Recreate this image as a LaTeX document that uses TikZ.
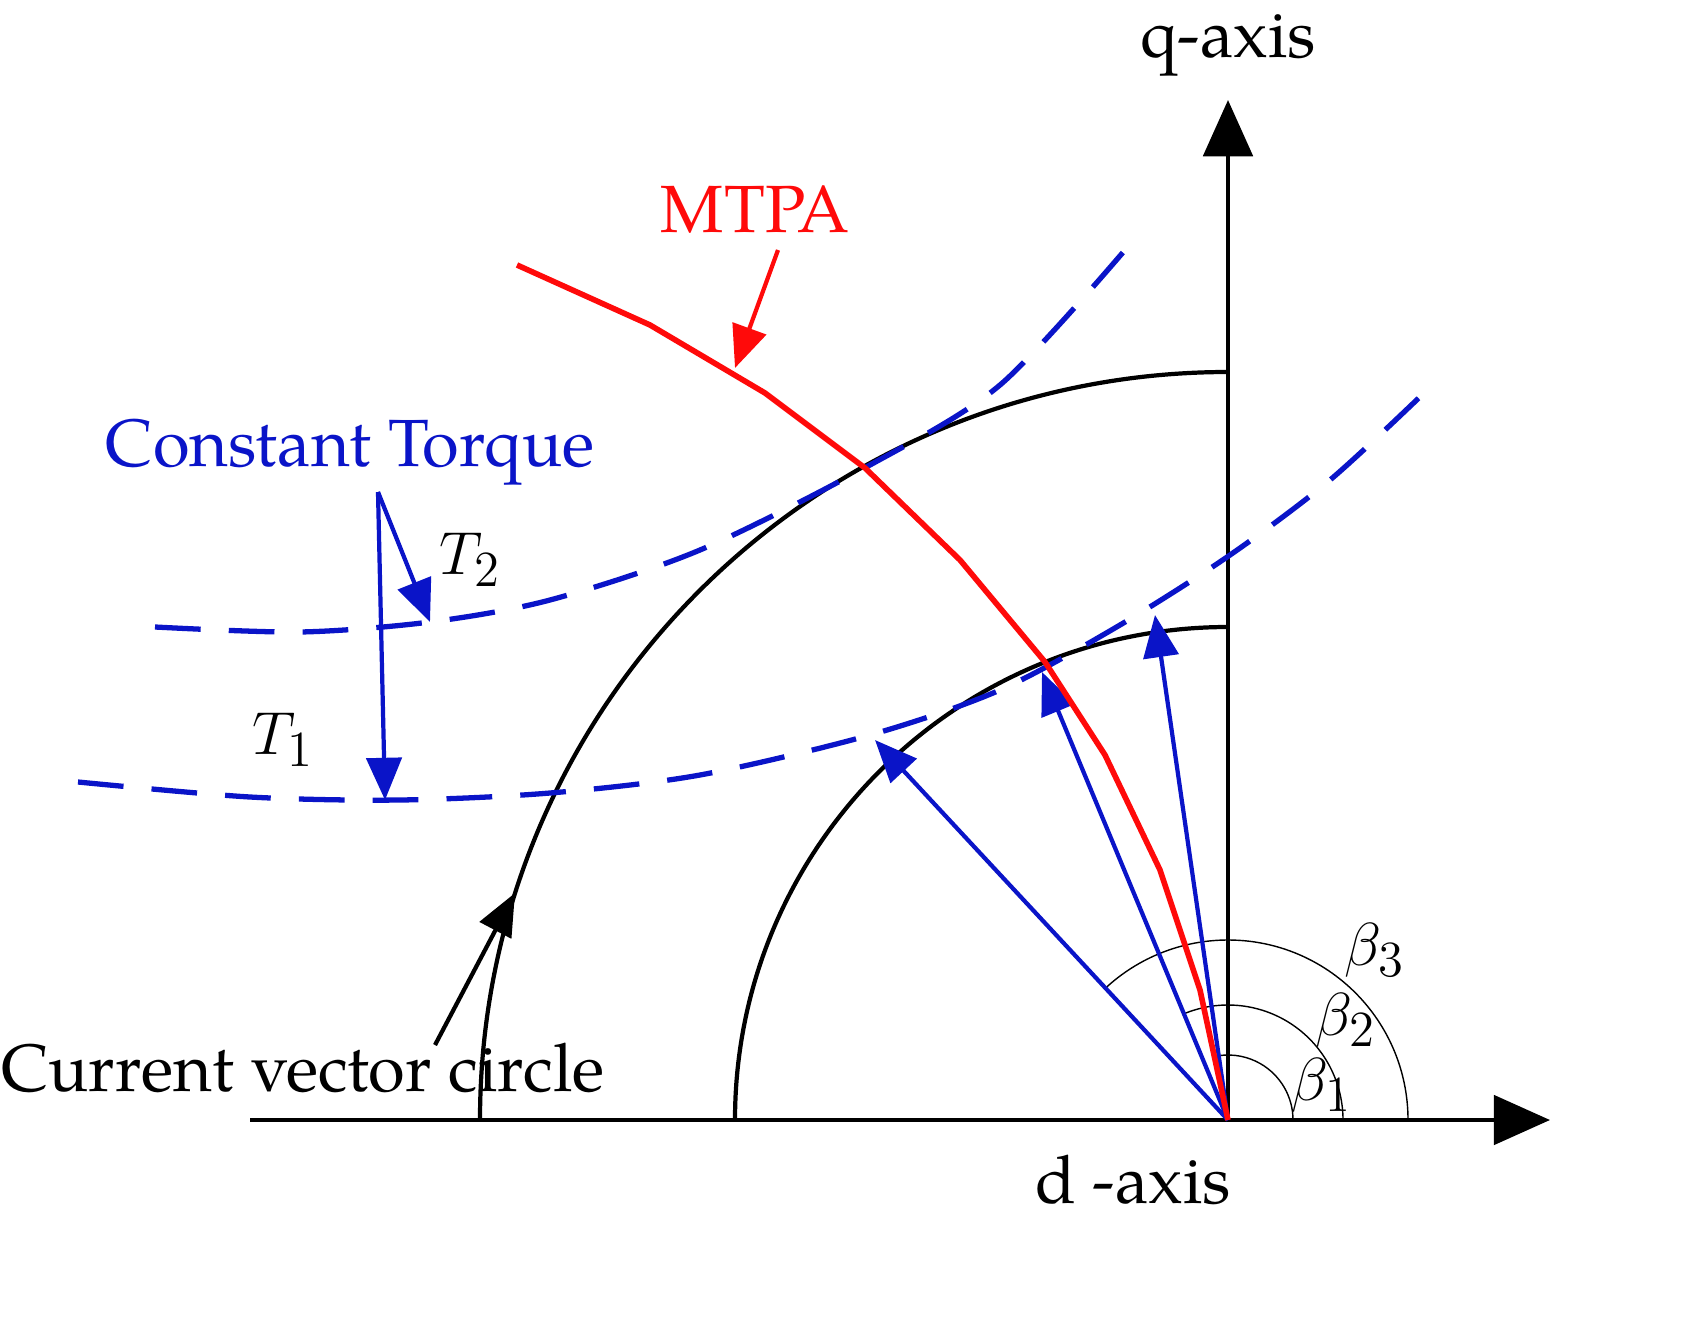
\documentclass[tikz,border=0pt]{standalone}
\usepackage{fontspec}
\setmainfont{TeX Gyre Pagella}
\usetikzlibrary{arrows.meta}
\definecolor{torque}{HTML}{0A14C8}
\definecolor{mtpa}{HTML}{FF0A0A}
\tikzset{
  axis/.style={line width=1.3pt, -{Triangle[length=16pt,width=14pt]}},
  circ/.style={line width=1.2pt},
  tq/.style={torque, line width=1.5pt, dash pattern=on 13pt off 8pt},
  vec/.style={torque, line width=1.2pt, -{Triangle[length=12pt,width=10pt]}},
  lbl/.style={font=\fontsize{19}{22}\selectfont},
  ptr/.style={line width=1.2pt, -{Triangle[length=12pt,width=10pt]}},
}
\begin{document}
\begin{tikzpicture}[x=0.01cm, y=0.01cm]
  \useasboundingbox (0,0) rectangle (1691,1332);

  %% axes
  \coordinate (O) at (1228,212);
  \coordinate (qtop) at (1228,1232);
  \coordinate (dl) at (250,212);
  \coordinate (dr) at (1550,212);
  \draw[axis] (O) -- (qtop);
  \draw[axis] (dl) -- (dr);
  \node[lbl] (qlab) at (1228,1287) {q-axis};
  \node[lbl] (dlab) at (1133,152) {d -axis};

  %% current circles
  \draw[circ] (480,212) arc (180:90:748);
  \draw[circ] (735,212) arc (180:90:493);

  %% angle arcs
  \draw[thin] (1408,212) arc (0:133:180);
  \draw[thin] (1343,212) arc (0:113:115);
  \draw[thin] (1293,212) arc (0:98:65);
  \node[lbl] (b3) at (1375,382) {$\beta_3$};
  \node[lbl] (b2) at (1346,312) {$\beta_2$};
  \node[lbl] (b1) at (1322,247) {$\beta_1$};

  %% constant torque curves
  \draw[tq] plot[smooth] coordinates {(155,705) (300,700) (430,710) (550,732)
    (700,782) (870,867) (1000,947) (1125,1082)};
  \draw[tq] plot[smooth] coordinates {(78,550) (250,535) (400,532) (550,539)
    (700,557) (870,597) (1000,642) (1120,707) (1230,777) (1330,852) (1425,940)};

  %% current vectors
  \coordinate (v1) at (1155,717);
  \coordinate (v2) at (1042,660);
  \coordinate (v3) at (875,592);
  \foreach \v in {v1,v2,v3}
    \draw[vec] (O) -- (\v);

  %% MTPA
  \draw[mtpa, line width=1.6pt] (517,1067) -- (650,1007) -- (765,939) -- (865,864)
    -- (960,772) -- (1045,670) -- (1105,577) -- (1160,462) -- (1200,342) -- (O);
  \node[lbl, mtpa] (mtpalab) at (755,1122) {MTPA};
  \coordinate (mtpaend) at (735,964);
  \draw[ptr, mtpa] (778,1082) -- (mtpaend);

  %% torque labels
  \node[lbl, torque] (ctlab) at (350,880) {Constant Torque};
  \coordinate (ct) at (378,840);
  \coordinate (t2end) at (430,710);
  \coordinate (t1end) at (385,532);
  \draw[ptr, torque] (ct) -- (t2end);
  \draw[ptr, torque] (ct) -- (t1end);
  \node[lbl] (t2lab) at (470,772) {$T_2$};
  \node[lbl] (t1lab) at (283,592) {$T_1$};

  %% circle label
  \node[lbl] (cvc) at (303,264) {Current vector circle};
  \coordinate (cvcstart) at (435,287);
  \coordinate (cvcend) at (515,439);
  \draw[ptr] (cvcstart) -- (cvcend);
\end{tikzpicture}
\end{document}
